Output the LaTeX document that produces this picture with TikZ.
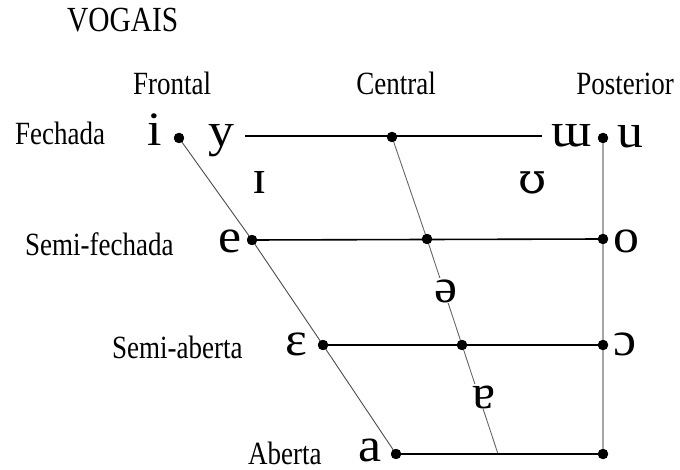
\documentclass[tikz,border=0pt]{standalone}
\usepackage{fontspec}
\setmainfont{Liberation Serif}
\newfontfamily\dvserif{DejaVu Serif}
\begin{document}
\begin{tikzpicture}[x=1pt,y=-1pt,
  lab/.style={inner sep=0pt,anchor=base,yscale=1.2,text depth=0pt,font=\fontsize{27}{30}\selectfont},
  labw/.style={lab,anchor=base west},
  ipa/.style={inner sep=0pt,anchor=base,text depth=0pt,xscale=1.08,font=\fontsize{48}{50}\selectfont},
  ipaw/.style={ipa,fill=white,inner sep=1pt},
  pt/.style={circle,fill=black,inner sep=0pt,minimum size=10pt},
  hline/.style={black,line width=1.6pt},
  fline/.style={black!70,line width=0.9pt},
  cline/.style={black!60,line width=0.9pt},
  vline/.style={black!35,line width=1.3pt}]
\useasboundingbox (0,0) rectangle (680,470);
% dots
\node[pt] (Di) at (179,138) {};
\node[pt] (C1) at (392,137) {};
\node[pt] (Du) at (603,138) {};
\node[pt] (De) at (252,240) {};
\node[pt] (C2) at (427,239) {};
\node[pt] (Do) at (603,239) {};
\node[pt] (Dee) at (323,345) {};
\node[pt] (C3) at (462,345) {};
\node[pt] (Doo) at (603,345) {};
\node[pt] (Da) at (396,454) {};
\node[pt] (Dr) at (603,454) {};
\coordinate (C4) at (498,454);
\coordinate (T1) at (245,136);
\coordinate (T2) at (542,136);
% lines
\draw[fline] (Di.center) -- (De.center) -- (Dee.center) -- (Da.center);
\draw[cline] (C1.center) -- (C2.center) -- (C3.center) -- (C4);
\draw[vline] (Du.center) -- (Dr.center);
\draw[hline] (T1) -- (T2);
\draw[hline] (De.center) -- (Do.center);
\draw[hline] (Dee.center) -- (Doo.center);
\draw[hline] (Da.center) -- (Dr.center);
% redraw dots on top
\foreach \p in {Di,C1,Du,De,C2,Do,Dee,C3,Doo,Da,Dr}
  \fill (\p) circle (5.2pt);
% IPA symbols
\node[ipa] (si) at (155,146) {i};
\node[ipa] (sy) at (221,147) {y};
\node[ipa] (sw) at (572,147) {ɯ};
\node[ipa] (su) at (630,148) {u};
\node[ipa] (sI) at (260,194) {ɪ};
\node[ipa,xscale=1,font=\dvserif\fontsize{42}{44}\selectfont] (sU) at (533,194) {ʊ};
\node[ipa] (se) at (230,253) {e};
\node[ipa] (so) at (626,253) {o};
\node[ipaw] (sschwa) at (446,302) {ə};
\node[ipa] (sE) at (296,355) {ɛ};
\node[ipa] (sO) at (625,355) {ɔ};
\node[ipaw] (sA) at (484,408) {ɐ};
\node[ipa] (sa) at (370,461) {a};
% labels
\node[labw,font=\fontsize{29.4}{32}\selectfont] (title) at (67,32) {VOGAIS};
\node[lab] (front) at (172,95) {Frontal};
\node[lab] (cent) at (396,95) {Central};
\node[lab] (post) at (625,95) {Posterior};
\node[labw] (l1) at (15,145) {Fechada};
\node[labw] (l2) at (25,256) {Semi-fechada};
\node[labw] (l3) at (112,358) {Semi-aberta};
\node[labw] (l4) at (248,464) {Aberta};
\end{tikzpicture}
\end{document}
